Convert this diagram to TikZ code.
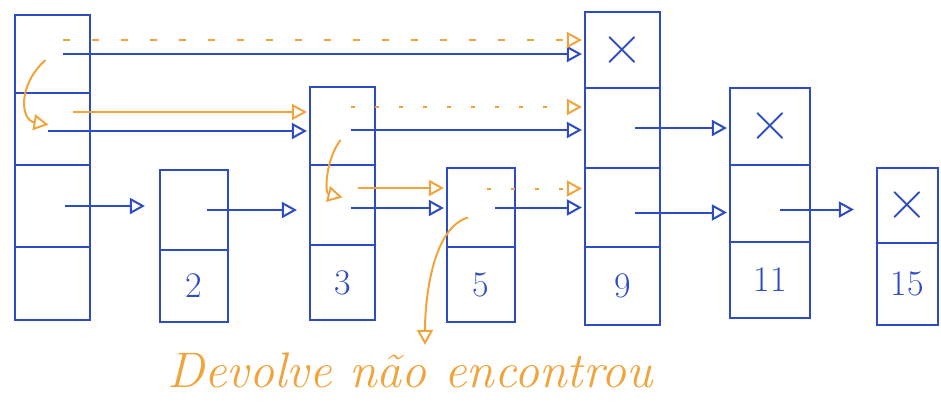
\documentclass[tikz,border=0pt]{standalone}
\usetikzlibrary{arrows.meta,calc}
\definecolor{pen}{RGB}{45,75,195}
\definecolor{hl}{RGB}{240,165,60}
\begin{document}
\begin{tikzpicture}[x=1pt,y=-1pt,
  cell/.style={draw=pen,line width=2.2pt,rectangle,inner sep=0pt,minimum width=#1},
  key/.style={text=pen,font=\fontsize{36}{40}\selectfont},
  cross/.style={text=pen,font=\fontsize{58}{60}\selectfont},
  ptr/.style={draw=pen,line width=2pt,-{Triangle[open,length=15pt,width=16pt,line width=2pt]},shorten >=2pt},
  optr/.style={draw=hl,line width=2pt,-{Triangle[open,length=15pt,width=16pt,line width=2pt]},shorten >=2pt}]
\useasboundingbox (0,0) rectangle (941,405);
% head
\node[cell=75pt,minimum height=78pt] (h1) at (52.5,54) {};
\node[cell=75pt,minimum height=72pt] (h2) at (52.5,129) {};
\node[cell=75pt,minimum height=82pt] (h3) at (52.5,206) {};
\node[cell=75pt,minimum height=73pt] (h4) at (52.5,283.5) {};
% node 2
\node[cell=68pt,minimum height=80pt] (a1) at (194,210) {};
\node[cell=68pt,minimum height=72pt,key] (ak) at (194,286) {2};
% node 3
\node[cell=65pt,minimum height=78pt] (b2) at (342.5,126) {};
\node[cell=65pt,minimum height=80pt] (b1) at (342.5,205) {};
\node[cell=65pt,minimum height=75pt,key] (bk) at (342.5,282.5) {3};
% node 5
\node[cell=68pt,minimum height=79pt] (c1) at (481,207.5) {};
\node[cell=68pt,minimum height=75pt,key] (ck) at (481,284.5) {5};
% node 9
\node[cell=75pt,minimum height=76pt,cross] (d3) at (622.5,50) {×};
\node[cell=75pt,minimum height=80pt] (d2) at (622.5,128) {};
\node[cell=75pt,minimum height=79pt] (d1) at (622.5,207.5) {};
\node[cell=75pt,minimum height=78pt,key] (dk) at (622.5,286) {9};
% node 11
\node[cell=80pt,minimum height=77pt,cross] (e2) at (770,126.5) {×};
\node[cell=80pt,minimum height=77pt] (e1) at (770,203.5) {};
\node[cell=80pt,minimum height=76pt,key] (ek) at (770,280) {11};
% node 15
\node[cell=61pt,minimum height=75pt,cross] (f1) at (907.5,205.5) {×};
\node[cell=61pt,minimum height=82pt,key] (fk) at (907.5,284) {15};
% blue pointers
\draw[ptr] (h1.center) ++(10,0) coordinate (p1) -- (p1 -| d3.west);
\draw[ptr] (h2.center) ++(-5,2) coordinate (p2) -- (p2 -| b2.west);
\draw[ptr] (h3.center) ++(12,0) coordinate (p3) -- ($(p3 -| a1.west)+(-12,0)$);
\draw[ptr] (a1.center) ++(13,0) coordinate (p4) -- ($(p4 -| b1.west)+(-10,0)$);
\draw[ptr] (b2.center) ++(8,4) coordinate (p5) -- (p5 -| d2.west);
\draw[ptr] (b1.center) ++(8,3) coordinate (p6) -- (p6 -| c1.west);
\draw[ptr] (c1.center) ++(14,0) coordinate (p7) -- (p7 -| d1.west);
\draw[ptr] (d2.center) ++(12,0) coordinate (p8) -- (p8 -| e2.west);
\draw[ptr] (d1.center) ++(12,5) coordinate (p9) -- (p9 -| e1.west);
\draw[ptr] (e1.center) ++(10,6) coordinate (p10) -- ($(p10 -| f1.west)+(-20,0)$);
% orange search path
\draw[optr,dash pattern=on 7pt off 22pt] (h1.center) ++(10,-14) coordinate (q1) -- (q1 -| d3.west);
\draw[optr] (h1.center) ++(-7,6) coordinate (q2) .. controls ++(-28,25) and ++(-30,-5) .. ($(h2.center)+(-2,-4)$) coordinate (q3);
\draw[optr] (h2.center) ++(20,-17) coordinate (q4) -- (q4 -| b2.west);
\draw[optr,dash pattern=on 4pt off 20pt] (b2.center) ++(8,-19) coordinate (q5) -- (q5 -| d2.west);
\draw[optr] (b2.center) ++(-2,14) coordinate (q6) .. controls ++(-15,20) and ++(-20,-5) .. ($(b1.center)+(2,-7)$);
\draw[optr] (b1.center) ++(15,-17) coordinate (q7) -- (q7 -| c1.west);
\draw[optr,dash pattern=on 4pt off 20pt] (c1.center) ++(6,-19) coordinate (q8) -- (q8 -| d1.west);
\node[text=hl,font=\itshape\fontsize{50}{56}\selectfont] (msg) at (410,370) {Devolve não encontrou};
\draw[optr] (c1.center) ++(-13,10) coordinate (q9) .. controls ++(-35,10) and ++(0,-50) .. ($(msg.north)+(15,-2)$);
\end{tikzpicture}
\end{document}
